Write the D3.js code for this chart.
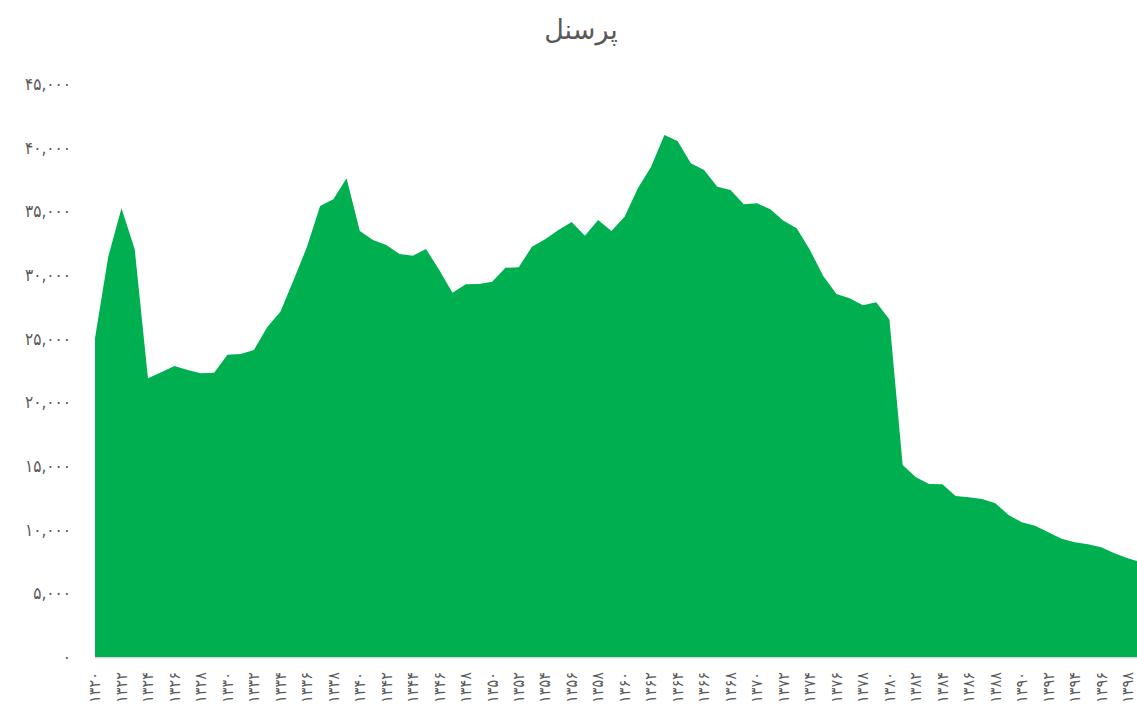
<!DOCTYPE html>
<html>
<head>
<meta charset="utf-8">
<script src="https://cdn.jsdelivr.net/npm/d3@7"></script>
<style>
  html, body { margin: 0; padding: 0; background: #fff; }
  svg { display: block; }
  text { font-family: "DejaVu Sans", sans-serif; fill: #595959; }
</style>
</head>
<body>
<svg id="chart" width="1137" height="710"></svg>
<script>
const title = "پرسنل";
const years = d3.range(1320, 1400);
const personnel = [
  25030, 31440, 35240, 32020, 21890, 22360, 22850, 22540, 22280, 22330,
  23740, 23800, 24110, 25890, 27120, 29610, 32180, 35420, 35950, 37590,
  33460, 32750, 32360, 31650, 31520, 32040, 30390, 28610, 29270, 29290,
  29470, 30570, 30610, 32220, 32800, 33530, 34160, 33090, 34320, 33460,
  34580, 36810, 38510, 41000, 40520, 38770, 38250, 36940, 36680, 35550,
  35630, 35160, 34260, 33670, 31960, 29920, 28510, 28170, 27620, 27860,
  26500, 15080, 14110, 13590, 13560, 12640, 12540, 12410, 12070, 11150,
  10580, 10310, 9790, 9290, 9010, 8850, 8620, 8140, 7750, 7460
];
const yTicks = [0, 5000, 10000, 15000, 20000, 25000, 30000, 35000, 40000, 45000];
const xLabelYears = d3.range(1320, 1400, 2);

const faDigits = "۰۱۲۳۴۵۶۷۸۹";
const toFa = s => String(s).replace(/[0-9]/g, d => faDigits[+d]);
const fmtTick = v => v === 0 ? "۰" : toFa(d3.format(",")(v));

const svg = d3.select("#chart");
const x = d3.scalePoint().domain(years).range([95, 1141]);
const y = d3.scaleLinear().domain([0, 45000]).range([657, 84]);

svg.append("text")
  .attr("x", 581).attr("y", 39)
  .attr("text-anchor", "middle")
  .attr("font-size", 27)
  .text(title);

const area = d3.area()
  .x((d, i) => x(years[i]))
  .y0(y(0))
  .y1(d => y(d));

svg.append("path")
  .datum(personnel)
  .attr("d", area)
  .attr("fill", "#00b050");

svg.append("line")
  .attr("x1", 95).attr("x2", 1137)
  .attr("y1", y(0) + 0.8).attr("y2", y(0) + 0.8)
  .attr("stroke", "#d9d9d9").attr("stroke-width", 1.6);

const yAxis = d3.axisLeft(y).tickValues(yTicks).tickFormat(fmtTick).tickSize(0).tickPadding(0);
const gy = svg.append("g").attr("transform", "translate(71,0)").call(yAxis);
gy.select(".domain").remove();
gy.selectAll("text").attr("font-size", 17).attr("fill", "#595959").style("font-family", "'DejaVu Sans Condensed', 'DejaVu Sans'");

const xAxis = d3.axisBottom(x).tickValues(xLabelYears).tickFormat(d => toFa(d)).tickSize(0).tickPadding(0);
const gx = svg.append("g").attr("transform", "translate(0,672)").call(xAxis);
gx.select(".domain").remove();
gx.selectAll("text")
  .attr("font-size", 16).attr("fill", "#595959").style("font-family", "'DejaVu Sans Condensed', 'DejaVu Sans'")
  .attr("transform", "rotate(-90)")
  .attr("text-anchor", "end")
  .attr("x", 0).attr("y", 0).attr("dy", "0.3em");
</script>
</body>
</html>
